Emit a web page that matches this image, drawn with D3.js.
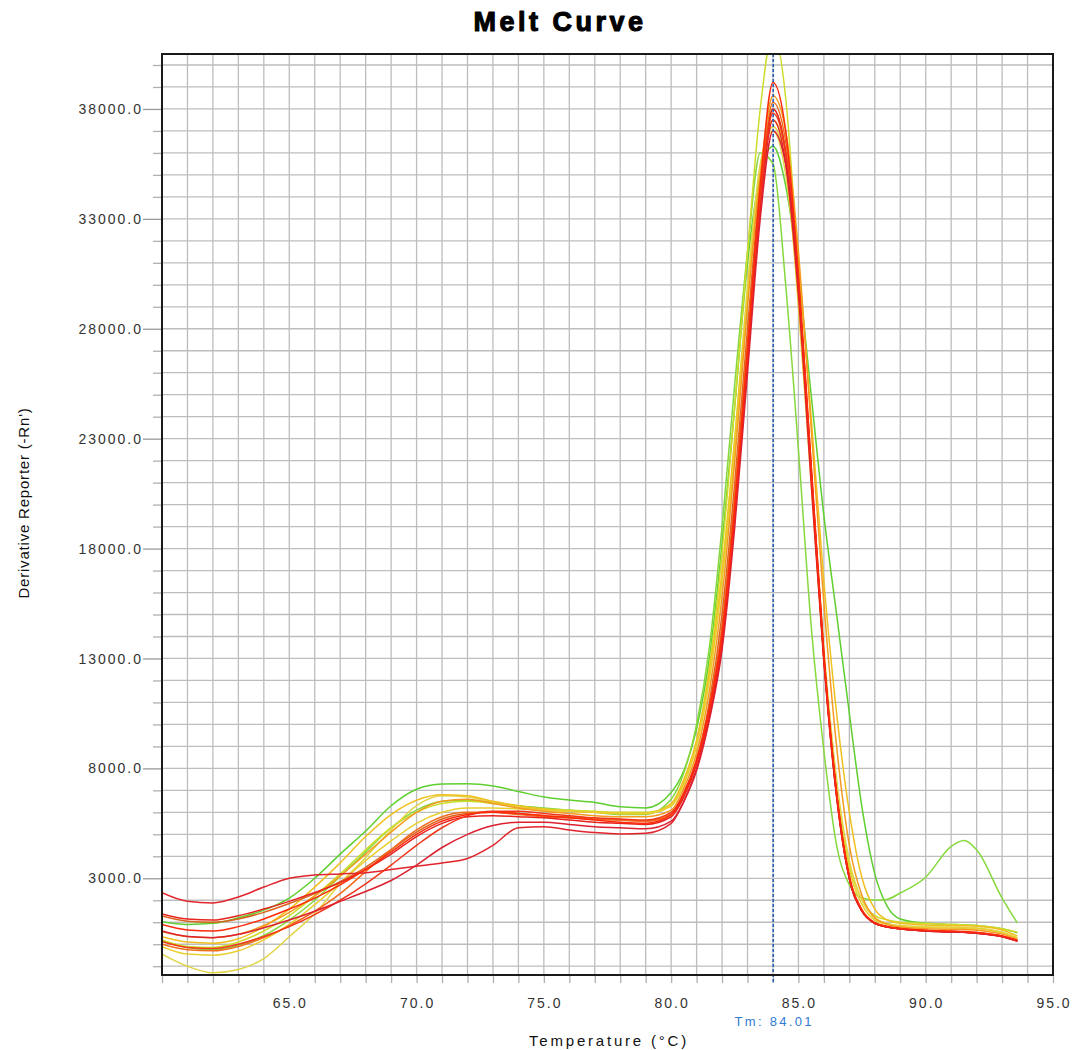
<!DOCTYPE html>
<html>
<head>
<meta charset="utf-8">
<script src="https://cdn.jsdelivr.net/npm/d3@7"></script>
<style>
  html, body { margin: 0; padding: 0; background: #fff; }
  svg { display: block; }
  text { font-family: "Liberation Sans", Arial, sans-serif; }
</style>
</head>
<body>
<svg id="chart" width="1074" height="1050"></svg>
<script>
// ---------- data ----------
const title = "Melt Curve";
const xTitle = "Temperature (°C)";
const yTitle = "Derivative Reporter (-Rn')";
const tmValue = 84.01;
const tmLabel = "Tm: 84.01";

const temps = [60,61,62,63,64,65,66,67,68,69,70,71,72,73,74,75,76,77,78,79,
  80,80.5,81,81.5,82,82.5,83,83.5,84,84.5,85,85.5,86,86.5,87,87.5,88,88.5,89,90,91,91.5,92,93,93.6];

const xTickLabels = ["65.0","70.0","75.0","80.0","85.0","90.0","95.0"];
const xTickValues = [65,70,75,80,85,90,95];
const yTickLabels = ["3000.0","8000.0","13000.0","18000.0","23000.0","28000.0","33000.0","38000.0"];
const yTickValues = [3000,8000,13000,18000,23000,28000,33000,38000];

const seriesNames = ["G1","G2","YG","Ylow","Y2","Y3","O1","O2","O3","R1","R2","R3","R4","R5"];
const seriesColors = ["#5fcf2f","#86d83c","#cfdc2c","#e2d446","#f0c020","#e8cf30","#f59a1f","#da621c","#f26b1d","#e2242c","#e8231f","#f2361a","#dc2030","#ff2a0a"];

const G1 = [1020,900,950,1200,1550,2100,3000,4100,5150,6300,7050,7290,7300,7200,6950,6700,6560,6450,6250,6200,
  6900,7900,9800,13000,18200,24500,31000,35000,36300,34500,30500,25000,19500,15000,10500,6200,3200,1700,1150,950,900,880,850,700,520];
const G2 = [150,-150,-250,-50,400,1100,2000,3100,4200,5300,6100,6500,6550,6450,6300,6200,6100,6000,5900,5900,
  6600,7800,10000,13500,19000,25500,31500,36000,35500,30000,22500,14500,8800,4500,2700,2100,2000,2050,2330,3050,4450,4720,4300,2100,970];
const YG = [200,-100,-150,100,600,1300,2200,3200,4300,5300,6000,6400,6500,6400,6250,6150,6100,6050,6000,6000,
  6300,7300,9200,12600,17800,24500,31500,38000,41500,38500,30500,21500,13000,7000,3600,2000,1300,1100,1000,950,900,880,850,700,550];
const Ylow = [-450,-1000,-1300,-1150,-650,340,1400,2750,3950,5200,6300,6750,6700,6450,6250,6100,6050,6000,5950,5950,
  6300,7400,9200,12200,16800,23000,30000,35500,37000,35000,29500,21500,13500,7500,3800,2000,1200,950,850,800,780,770,740,550,300];
const Y2 = [340,100,50,250,800,1600,2600,3700,4900,5900,6550,6800,6750,6500,6300,6150,6050,6000,5950,5950,
  6400,7500,9300,12400,17000,23000,29500,35000,37500,36000,31000,24000,16500,10500,6000,3000,1600,1100,950,880,850,840,820,650,380];
const Y3 = [-110,-450,-500,-300,200,900,1800,2800,3800,4700,5500,6000,6200,6200,6150,6100,6050,6000,5950,5950,
  6300,7300,9000,12000,16500,22500,29500,35000,37200,35500,29000,21000,13000,7000,3400,1800,1100,900,800,760,740,730,700,520,280];
const O1 = [570,350,300,450,850,1450,2200,3100,4100,5100,6000,6500,6600,6400,6200,6050,5950,5850,5800,5800,
  6100,7100,8700,11500,15800,22000,29000,35000,38600,37000,31500,23500,15500,9000,4500,2200,1200,900,780,700,680,670,640,460,230];
const O2 = [1280,1050,1000,1150,1450,1850,2300,2850,3500,4300,5100,5700,5950,6000,5950,5850,5800,5700,5650,5600,
  5900,6900,8400,11000,15000,21000,28000,34500,38000,36000,30000,21500,13000,6800,3000,1500,950,780,700,620,580,560,520,360,160];
const O3 = [0,-250,-300,-100,300,850,1500,2300,3300,4300,5200,5800,6000,6000,5900,5800,5750,5700,5650,5600,
  5900,6800,8300,10800,14500,20500,27500,34000,38300,36500,30000,21500,13000,6700,3000,1500,950,780,700,610,570,550,510,350,150];
const R1 = [2340,1950,1880,2150,2600,3000,3150,3200,3250,3400,3550,3700,3900,4500,5300,5350,5200,5080,5020,5050,
  5500,6500,8000,10300,13600,19500,26500,33500,37500,35500,29500,21000,12800,6700,3000,1500,950,780,700,600,560,540,500,340,140];
const R2 = [1380,1150,1100,1300,1600,1950,2350,2800,3400,4100,4900,5500,5800,5850,5800,5750,5650,5550,5500,5450,
  5800,6700,8200,10500,13800,19500,26500,33500,38000,36000,30000,21500,13000,6800,3000,1500,950,780,700,600,560,540,500,350,150];
const R3 = [120,-150,-200,0,350,800,1350,2000,2750,3600,4500,5300,5850,6050,6050,5950,5850,5750,5700,5650,
  6000,6900,8400,10800,14200,20000,27000,34000,37800,36000,30200,21800,13200,6900,3100,1550,980,800,720,620,580,560,520,370,170];
const R4 = [600,350,300,450,750,1100,1500,1950,2400,2900,3600,4400,5000,5400,5550,5550,5450,5350,5300,5250,
  5600,6500,7900,10200,13400,19000,26000,33000,37000,35500,30000,21500,13000,6800,3000,1500,950,780,700,600,560,540,500,350,150];
const R5 = [900,650,600,800,1150,1600,2100,2700,3400,4200,5000,5600,5900,6000,5950,5850,5750,5650,5550,5500,
  5900,6800,8300,10600,14000,19800,27000,34500,39200,37000,30500,21800,13200,6900,3100,1550,980,800,720,640,600,580,540,380,180];

const seriesValues = [G1,G2,YG,Ylow,Y2,Y3,O1,O2,O3,R1,R2,R3,R4,R5];

// ---------- layout ----------
const svg = d3.select("#chart");
const plot = { left: 162, right: 1053, top: 54, bottom: 975 };

const x = d3.scaleLinear().domain([60, 95]).range([plot.left, plot.right]);
const y = d3.scaleLinear().domain([-1400, 40500]).range([plot.bottom, plot.top]);

// grid
const gridX = d3.range(61, 95, 1);
const gridY = d3.range(-1000, 40001, 1000);
const grid = svg.append("g").attr("stroke", "#bdbdbd").attr("stroke-width", 1.3);
grid.selectAll("line.gx").data(gridX).join("line")
  .attr("x1", d => x(d)).attr("x2", d => x(d))
  .attr("y1", plot.top).attr("y2", plot.bottom);
grid.selectAll("line.gy").data(gridY).join("line")
  .attr("y1", d => y(d)).attr("y2", d => y(d))
  .attr("x1", plot.left).attr("x2", plot.right);

// x axis ticks (every degree) using d3 axis
const xAxis = d3.axisBottom(x).tickValues(d3.range(60, 96, 1)).tickSize(8).tickFormat("");
svg.append("g").attr("transform", `translate(0,${plot.bottom})`).call(xAxis)
  .call(g => g.select(".domain").remove())
  .call(g => g.selectAll(".tick line").attr("stroke", "#b0b0b0").attr("stroke-width", 1.3));

// x labels
svg.append("g").selectAll("text").data(xTickValues).join("text")
  .attr("x", d => x(d) + 1).attr("y", 1008)
  .attr("text-anchor", "middle").attr("font-size", 14).attr("letter-spacing", "2px")
  .attr("fill", "#333").text((d, i) => xTickLabels[i]);

// y ticks
const yMinor = d3.axisLeft(y).tickValues(gridY.filter(v => !yTickValues.includes(v))).tickSize(9).tickFormat("");
svg.append("g").attr("transform", `translate(${plot.left},0)`).call(yMinor)
  .call(g => g.select(".domain").remove())
  .call(g => g.selectAll(".tick line").attr("stroke", "#b0b0b0").attr("stroke-width", 1.3));
const yMajor = d3.axisLeft(y).tickValues(yTickValues).tickSize(19).tickFormat("");
svg.append("g").attr("transform", `translate(${plot.left},0)`).call(yMajor)
  .call(g => g.select(".domain").remove())
  .call(g => g.selectAll(".tick line").attr("stroke", "#9a9a9a").attr("stroke-width", 1.3));

svg.append("g").selectAll("text").data(yTickValues).join("text")
  .attr("x", 143).attr("y", d => y(d)).attr("dy", "0.36em")
  .attr("text-anchor", "end").attr("font-size", 14).attr("letter-spacing", "2px")
  .attr("fill", "#333").text((d, i) => yTickLabels[i]);

// curves
svg.append("clipPath").attr("id", "clip").append("rect")
  .attr("x", plot.left).attr("y", plot.top)
  .attr("width", plot.right - plot.left).attr("height", plot.bottom - plot.top);

const line = d3.line()
  .x((d, i) => x(temps[i]))
  .y(d => y(d))
  .curve(d3.curveMonotoneX);

svg.append("g").attr("clip-path", "url(#clip)")
  .selectAll("path").data(seriesValues).join("path")
  .attr("d", d => line(d))
  .attr("fill", "none")
  .attr("stroke", (d, i) => seriesColors[i])
  .attr("stroke-width", 1.5)
  .attr("stroke-linejoin", "round");

// Tm line
svg.append("line")
  .attr("x1", x(tmValue)).attr("x2", x(tmValue))
  .attr("y1", plot.top).attr("y2", plot.bottom + 8)
  .attr("stroke", "#2a5fb8").attr("stroke-width", 1.6).attr("stroke-dasharray", "3,2");

// border
svg.append("rect")
  .attr("x", plot.left).attr("y", plot.top)
  .attr("width", plot.right - plot.left).attr("height", plot.bottom - plot.top)
  .attr("fill", "none").attr("stroke", "#1a1a1a").attr("stroke-width", 2);

// Tm label
svg.append("text").attr("x", x(tmValue) + 1).attr("y", 1026)
  .attr("text-anchor", "middle").attr("font-size", 13).attr("letter-spacing", "2.3px")
  .attr("fill", "#2f7bd2").text(tmLabel);

// titles
svg.append("text").attr("x", 560).attr("y", 31)
  .attr("text-anchor", "middle").attr("font-size", 27).attr("font-weight", 900)
  .attr("letter-spacing", "3.5px").attr("fill", "#000")
  .attr("stroke", "#000").attr("stroke-width", 1.1).attr("stroke-linejoin", "round")
  .text(title);

svg.append("text").attr("x", 609).attr("y", 1046)
  .attr("text-anchor", "middle").attr("font-size", 15).attr("letter-spacing", "2.8px")
  .attr("fill", "#111").text(xTitle);

svg.append("text").attr("transform", "translate(29,503) rotate(-90)")
  .attr("text-anchor", "middle").attr("font-size", 15).attr("letter-spacing", "0.8px")
  .attr("fill", "#111").text(yTitle);
</script>
</body>
</html>
